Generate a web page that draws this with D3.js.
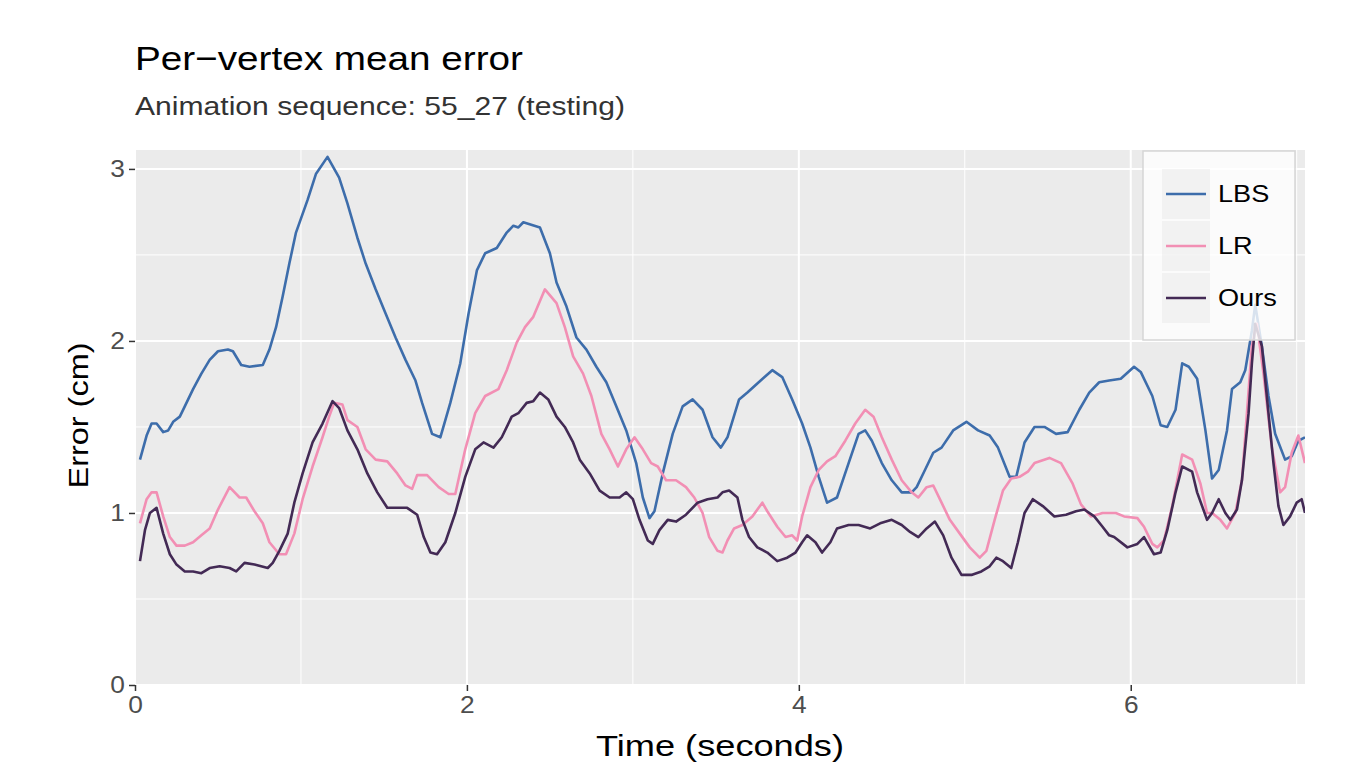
<!DOCTYPE html>
<html>
<head>
<meta charset="utf-8">
<script src="https://cdn.jsdelivr.net/npm/d3@7"></script>
<style>
  body { margin: 0; background: #fff; }
  text { font-family: "Liberation Sans", Arial, sans-serif; }
</style>
</head>
<body>
<svg id="chart" width="1349" height="764"></svg>
<script>
// series values: [time (s), error (cm)]
const lbs = [[0.03,1.31],[0.07,1.45],[0.10,1.52],[0.13,1.52],[0.17,1.47],[0.20,1.48],[0.23,1.53],[0.27,1.56],[0.30,1.62],[0.35,1.72],[0.40,1.81],[0.45,1.89],[0.50,1.94],[0.56,1.95],[0.59,1.94],[0.64,1.86],[0.69,1.85],[0.77,1.86],[0.81,1.95],[0.85,2.08],[0.89,2.26],[0.93,2.45],[0.97,2.63],[1.04,2.82],[1.09,2.97],[1.16,3.07],[1.23,2.95],[1.28,2.80],[1.34,2.60],[1.39,2.45],[1.45,2.30],[1.51,2.16],[1.57,2.02],[1.63,1.89],[1.69,1.77],[1.73,1.64],[1.79,1.46],[1.84,1.44],[1.90,1.64],[1.96,1.87],[2.01,2.16],[2.06,2.41],[2.11,2.51],[2.18,2.54],[2.24,2.63],[2.28,2.67],[2.31,2.66],[2.34,2.69],[2.44,2.66],[2.50,2.51],[2.54,2.34],[2.60,2.20],[2.66,2.02],[2.72,1.95],[2.78,1.85],[2.84,1.76],[2.90,1.62],[2.96,1.48],[3.02,1.29],[3.06,1.09],[3.10,0.97],[3.13,1.01],[3.18,1.23],[3.24,1.46],[3.30,1.62],[3.36,1.66],[3.42,1.60],[3.48,1.44],[3.53,1.38],[3.57,1.44],[3.64,1.66],[3.69,1.70],[3.77,1.77],[3.84,1.83],[3.90,1.79],[3.96,1.66],[4.02,1.52],[4.07,1.38],[4.12,1.21],[4.17,1.06],[4.23,1.09],[4.30,1.29],[4.36,1.46],[4.40,1.48],[4.44,1.42],[4.50,1.29],[4.56,1.19],[4.62,1.12],[4.68,1.12],[4.71,1.15],[4.76,1.25],[4.81,1.35],[4.86,1.38],[4.93,1.48],[5.01,1.53],[5.08,1.48],[5.15,1.45],[5.20,1.38],[5.27,1.21],[5.31,1.21],[5.36,1.41],[5.42,1.50],[5.48,1.50],[5.55,1.46],[5.62,1.47],[5.69,1.60],[5.75,1.70],[5.81,1.76],[5.87,1.77],[5.94,1.78],[6.02,1.85],[6.06,1.82],[6.13,1.68],[6.18,1.51],[6.22,1.50],[6.27,1.60],[6.31,1.87],[6.35,1.85],[6.40,1.78],[6.45,1.48],[6.49,1.20],[6.53,1.25],[6.58,1.48],[6.61,1.72],[6.66,1.76],[6.69,1.83],[6.73,2.06],[6.75,2.21],[6.79,1.97],[6.83,1.68],[6.87,1.46],[6.93,1.31],[6.97,1.33],[7.01,1.42],[7.05,1.44]];

const lr = [[0.03,0.94],[0.07,1.08],[0.10,1.12],[0.13,1.12],[0.17,0.98],[0.21,0.86],[0.25,0.81],[0.30,0.81],[0.35,0.83],[0.40,0.87],[0.45,0.91],[0.50,1.02],[0.57,1.15],[0.63,1.09],[0.67,1.09],[0.72,1.01],[0.77,0.94],[0.81,0.83],[0.87,0.76],[0.91,0.76],[0.96,0.88],[1.01,1.08],[1.07,1.27],[1.13,1.44],[1.17,1.56],[1.20,1.64],[1.25,1.63],[1.28,1.54],[1.34,1.50],[1.39,1.37],[1.45,1.31],[1.52,1.30],[1.58,1.23],[1.63,1.16],[1.67,1.14],[1.70,1.22],[1.76,1.22],[1.83,1.15],[1.89,1.11],[1.93,1.11],[1.99,1.37],[2.05,1.58],[2.11,1.68],[2.19,1.72],[2.24,1.83],[2.30,1.99],[2.35,2.08],[2.40,2.14],[2.47,2.30],[2.54,2.22],[2.59,2.08],[2.64,1.91],[2.70,1.81],[2.75,1.68],[2.81,1.46],[2.86,1.37],[2.91,1.27],[2.96,1.37],[3.01,1.44],[3.06,1.37],[3.11,1.29],[3.15,1.27],[3.20,1.19],[3.26,1.19],[3.32,1.15],[3.37,1.09],[3.42,1.00],[3.46,0.86],[3.51,0.78],[3.54,0.77],[3.57,0.84],[3.61,0.91],[3.66,0.93],[3.72,0.98],[3.78,1.06],[3.81,1.01],[3.87,0.92],[3.92,0.86],[3.96,0.87],[3.99,0.84],[4.02,0.98],[4.07,1.15],[4.12,1.25],[4.17,1.30],[4.22,1.33],[4.28,1.42],[4.34,1.52],[4.40,1.60],[4.45,1.56],[4.50,1.44],[4.56,1.31],[4.62,1.19],[4.68,1.12],[4.72,1.09],[4.77,1.15],[4.81,1.16],[4.86,1.06],[4.91,0.96],[4.97,0.88],[5.03,0.80],[5.09,0.74],[5.13,0.78],[5.18,0.96],[5.23,1.13],[5.28,1.20],[5.33,1.21],[5.38,1.24],[5.42,1.29],[5.51,1.32],[5.58,1.29],[5.65,1.17],[5.70,1.05],[5.76,0.98],[5.83,1.00],[5.91,1.00],[5.96,0.98],[6.04,0.97],[6.08,0.92],[6.13,0.82],[6.16,0.80],[6.20,0.84],[6.25,1.04],[6.28,1.19],[6.31,1.34],[6.37,1.31],[6.42,1.17],[6.46,1.00],[6.49,1.00],[6.54,0.96],[6.58,0.91],[6.63,1.00],[6.67,1.19],[6.70,1.58],[6.73,1.97],[6.76,2.10],[6.80,1.81],[6.85,1.38],[6.90,1.12],[6.93,1.15],[6.97,1.35],[7.01,1.45],[7.05,1.29]];

const ours = [[0.03,0.72],[0.06,0.90],[0.09,1.00],[0.13,1.03],[0.17,0.88],[0.21,0.76],[0.25,0.70],[0.30,0.66],[0.35,0.66],[0.40,0.65],[0.45,0.68],[0.51,0.69],[0.57,0.68],[0.61,0.66],[0.66,0.71],[0.72,0.70],[0.80,0.68],[0.83,0.71],[0.87,0.78],[0.92,0.88],[0.96,1.06],[1.01,1.23],[1.07,1.41],[1.13,1.52],[1.19,1.65],[1.23,1.61],[1.28,1.48],[1.34,1.37],[1.40,1.23],[1.46,1.12],[1.52,1.03],[1.58,1.03],[1.64,1.03],[1.70,0.99],[1.74,0.86],[1.78,0.77],[1.82,0.76],[1.87,0.83],[1.93,1.00],[1.99,1.21],[2.05,1.37],[2.10,1.41],[2.16,1.38],[2.21,1.44],[2.27,1.56],[2.31,1.58],[2.36,1.64],[2.40,1.65],[2.44,1.70],[2.49,1.66],[2.54,1.56],[2.59,1.50],[2.64,1.41],[2.68,1.31],[2.74,1.23],[2.80,1.13],[2.86,1.09],[2.92,1.09],[2.96,1.12],[3.00,1.08],[3.04,0.96],[3.09,0.84],[3.12,0.82],[3.16,0.90],[3.21,0.96],[3.26,0.95],[3.32,0.99],[3.39,1.06],[3.45,1.08],[3.51,1.09],[3.54,1.12],[3.58,1.13],[3.63,1.09],[3.66,0.96],[3.70,0.86],[3.75,0.80],[3.81,0.77],[3.87,0.72],[3.93,0.74],[3.98,0.77],[4.02,0.83],[4.05,0.87],[4.10,0.83],[4.14,0.77],[4.19,0.83],[4.23,0.91],[4.30,0.93],[4.36,0.93],[4.43,0.91],[4.49,0.94],[4.56,0.96],[4.62,0.93],[4.67,0.89],[4.72,0.86],[4.77,0.91],[4.82,0.95],[4.87,0.87],[4.92,0.74],[4.98,0.64],[5.04,0.64],[5.10,0.66],[5.15,0.69],[5.19,0.74],[5.23,0.72],[5.28,0.68],[5.32,0.83],[5.36,1.00],[5.41,1.08],[5.47,1.04],[5.54,0.98],[5.61,0.99],[5.67,1.01],[5.72,1.02],[5.78,0.98],[5.83,0.92],[5.87,0.87],[5.90,0.86],[5.98,0.80],[6.04,0.82],[6.08,0.86],[6.14,0.76],[6.18,0.77],[6.22,0.90],[6.27,1.12],[6.31,1.27],[6.37,1.24],[6.40,1.12],[6.46,0.96],[6.49,1.00],[6.53,1.08],[6.57,1.00],[6.60,0.96],[6.64,1.02],[6.67,1.19],[6.71,1.58],[6.73,1.87],[6.75,2.10],[6.79,1.97],[6.83,1.58],[6.86,1.29],[6.89,1.04],[6.92,0.93],[6.96,0.98],[7.00,1.06],[7.03,1.08],[7.05,1.00]];

const seriesNames = ['LBS', 'LR', 'Ours'];
const seriesColors = ['#3d6dab', '#f28fb4', '#432a55'];
const xTicks = [0, 2, 4, 6];
const yTicks = [0, 1, 2, 3];

const svg = d3.select('#chart');
const margin = {top: 150, right: 44, bottom: 79, left: 135};
const width = 1349 - margin.left - margin.right;
const height = 764 - margin.top - margin.bottom;

const x = d3.scaleLinear().domain([0, 7.05]).range([0, width]);
const y = d3.scaleLinear().domain([0, 3.11]).range([height, 0]);

// the original text is drawn a little wider than Arial, stretch it
function stretch(sel, k) {
    sel.each(function () {
        const len = this.getComputedTextLength();
        d3.select(this)
            .attr('textLength', len * k)
            .attr('lengthAdjust', 'spacingAndGlyphs');
    });
}

// titles
svg.append('text')
    .attr('x', margin.left).attr('y', 70)
    .attr('font-size', 34).attr('fill', '#000')
    .text('Per\u2212vertex mean error')
    .attr('textLength', 388).attr('lengthAdjust', 'spacingAndGlyphs');
svg.append('text')
    .attr('x', margin.left).attr('y', 115)
    .attr('font-size', 25).attr('fill', '#333')
    .text('Animation sequence: 55_27 (testing)')
    .attr('textLength', 490).attr('lengthAdjust', 'spacingAndGlyphs');

const g = svg.append('g')
    .attr('transform', 'translate(' + margin.left + ',' + margin.top + ')');

// panel background
g.append('rect')
    .attr('width', width).attr('height', height)
    .attr('fill', '#ebebeb');

// minor grid
g.selectAll('line.xminor')
    .data([1, 3, 5, 7])
    .enter().append('line')
    .attr('x1', d => x(d)).attr('x2', d => x(d))
    .attr('y1', 0).attr('y2', height)
    .attr('stroke', '#fff').attr('stroke-width', 1);
g.selectAll('line.yminor')
    .data([0.5, 1.5, 2.5])
    .enter().append('line')
    .attr('x1', 0).attr('x2', width)
    .attr('y1', d => y(d)).attr('y2', d => y(d))
    .attr('stroke', '#fff').attr('stroke-width', 1);

// major grid
g.selectAll('line.xmajor')
    .data(xTicks)
    .enter().append('line')
    .attr('x1', d => x(d)).attr('x2', d => x(d))
    .attr('y1', 0).attr('y2', height)
    .attr('stroke', '#fff').attr('stroke-width', 2);
g.selectAll('line.ymajor')
    .data(yTicks)
    .enter().append('line')
    .attr('x1', 0).attr('x2', width)
    .attr('y1', d => y(d)).attr('y2', d => y(d))
    .attr('stroke', '#fff').attr('stroke-width', 2);

// axes
const xAxis = g.append('g')
    .attr('transform', 'translate(0,' + height + ')')
    .call(d3.axisBottom(x).tickValues(xTicks).tickSize(6).tickPadding(5).tickFormat(d3.format('d')));
const yAxis = g.append('g')
    .call(d3.axisLeft(y).tickValues(yTicks).tickSize(6).tickPadding(4).tickFormat(d3.format('d')));
[xAxis, yAxis].forEach(a => {
    a.select('.domain').remove();
    a.selectAll('line').attr('stroke', '#333').attr('stroke-width', 1.5);
    a.selectAll('text')
        .attr('fill', '#4d4d4d')
        .attr('font-size', 23.5)
        .style('font-family', '"Liberation Sans", Arial, sans-serif')
        .call(stretch, 1.12);
});

// axis titles
svg.append('text')
    .attr('x', margin.left + width / 2).attr('y', 756)
    .attr('text-anchor', 'middle')
    .attr('font-size', 29).attr('fill', '#000')
    .text('Time (seconds)')
    .attr('textLength', 248).attr('lengthAdjust', 'spacingAndGlyphs');
svg.append('text')
    .attr('transform', 'translate(88,' + (margin.top + height / 2 - 2) + ') rotate(-90)')
    .attr('text-anchor', 'middle')
    .attr('font-size', 28).attr('fill', '#000')
    .text('Error (cm)')
    .attr('textLength', 146).attr('lengthAdjust', 'spacingAndGlyphs');

// lines
const line = d3.line()
    .x(d => x(d[0]))
    .y(d => y(d[1]));

g.append('clipPath').attr('id', 'clip')
    .append('rect').attr('width', width).attr('height', height);

g.append('g').attr('clip-path', 'url(#clip)')
    .selectAll('path')
    .data([lbs, lr, ours])
    .enter().append('path')
    .attr('d', line)
    .attr('fill', 'none')
    .attr('stroke', (d, i) => seriesColors[i])
    .attr('stroke-width', 2.6)
    .attr('stroke-linejoin', 'round');

// legend, semi transparent
const legend = svg.append('g')
    .attr('transform', 'translate(1143,151)');
legend.append('rect')
    .attr('width', 152).attr('height', 189)
    .attr('fill', '#fff').attr('fill-opacity', 0.8)
    .attr('stroke', '#d6d6d6').attr('stroke-width', 1.5);
const item = legend.selectAll('g.item')
    .data(seriesNames)
    .enter().append('g')
    .attr('transform', (d, i) => 'translate(19,' + (18 + i * 52) + ')');
item.append('rect')
    .attr('width', 48).attr('height', 50)
    .attr('fill', '#ebebeb').attr('fill-opacity', 0.55);
item.append('line')
    .attr('x1', 4).attr('x2', 44)
    .attr('y1', 25).attr('y2', 25)
    .attr('stroke', (d, i) => seriesColors[i])
    .attr('stroke-width', 2.6);
item.append('text')
    .attr('x', 56).attr('y', 33)
    .attr('font-size', 24).attr('fill', '#000')
    .text(d => d)
    .call(stretch, 1.13);
</script>
</body>
</html>
